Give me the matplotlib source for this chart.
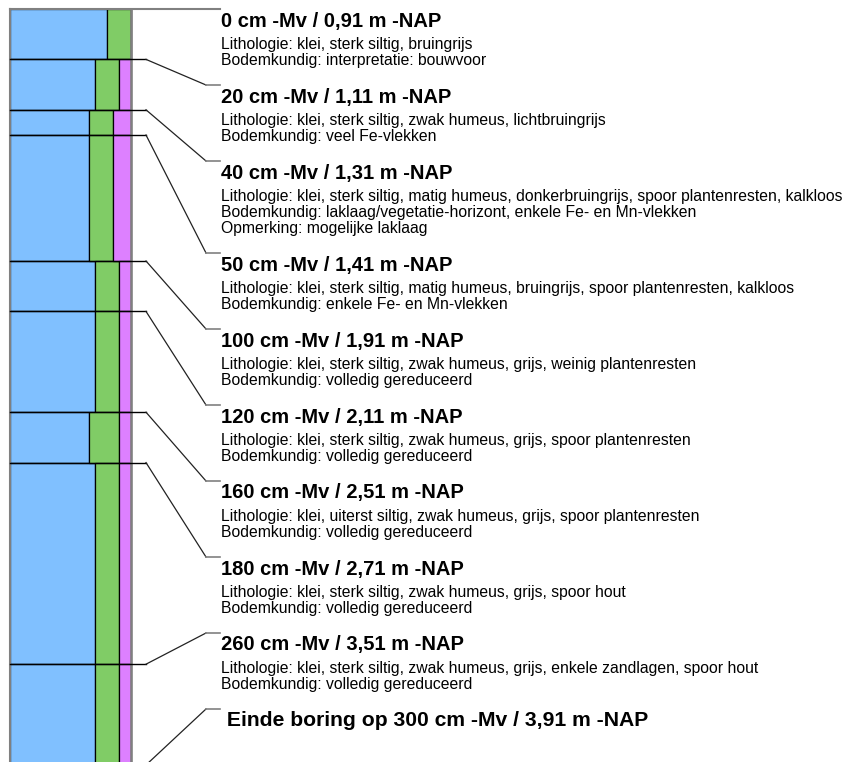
import matplotlib
matplotlib.use("Agg")
import matplotlib.pyplot as plt

plt.rcParams['font.family'] = ['Liberation Sans', 'DejaVu Sans']

# boorbeschrijving: bovenkant laag (cm -Mv)
diepte = [0, 20, 40, 50, 100, 120, 160, 180, 260]
einde = 300
maaiveld_nap = 0.91  # m -NAP

# breedte van de kolomdelen (klei / silt / humus)
klei = [97, 85, 79, 79, 85, 85, 79, 85, 85]
silt = [24, 24, 24, 24, 24, 24, 30, 24, 24]
humus = [0, 12, 18, 18, 12, 12, 12, 12, 12]

omschrijving = [
    ["Lithologie: klei, sterk siltig, bruingrijs",
     "Bodemkundig: interpretatie: bouwvoor"],
    ["Lithologie: klei, sterk siltig, zwak humeus, lichtbruingrijs",
     "Bodemkundig: veel Fe-vlekken"],
    ["Lithologie: klei, sterk siltig, matig humeus, donkerbruingrijs, spoor plantenresten, kalkloos",
     "Bodemkundig: laklaag/vegetatie-horizont, enkele Fe- en Mn-vlekken",
     "Opmerking: mogelijke laklaag"],
    ["Lithologie: klei, sterk siltig, matig humeus, bruingrijs, spoor plantenresten, kalkloos",
     "Bodemkundig: enkele Fe- en Mn-vlekken"],
    ["Lithologie: klei, sterk siltig, zwak humeus, grijs, weinig plantenresten",
     "Bodemkundig: volledig gereduceerd"],
    ["Lithologie: klei, sterk siltig, zwak humeus, grijs, spoor plantenresten",
     "Bodemkundig: volledig gereduceerd"],
    ["Lithologie: klei, uiterst siltig, zwak humeus, grijs, spoor plantenresten",
     "Bodemkundig: volledig gereduceerd"],
    ["Lithologie: klei, sterk siltig, zwak humeus, grijs, spoor hout",
     "Bodemkundig: volledig gereduceerd"],
    ["Lithologie: klei, sterk siltig, zwak humeus, grijs, enkele zandlagen, spoor hout",
     "Bodemkundig: volledig gereduceerd"],
]

def nap(cm):
    return ("%.2f" % (maaiveld_nap + cm / 100)).replace('.', ',')

# layout in pixels
px_cm = 2.52
top_px = 9
W, H = 853, 762
kol = sum([klei[0], silt[0], humus[0]])

fig = plt.figure(figsize=(W / 100, H / 100), dpi=100)
ax = fig.add_axes([0, 0, 1, 1])
ax.set_xlim(-10, W - 10)
ax.set_ylim((H - top_px) / px_cm, -top_px / px_cm)
ax.axis('off')

dikte = [b - a for a, b in zip(diepte, diepte[1:] + [einde])]
ax.barh(diepte, klei, height=dikte, left=0, align='edge',
        color='#80c0ff', edgecolor='black', linewidth=0.9)
ax.barh(diepte, silt, height=dikte, left=klei, align='edge',
        color='#80cc66', edgecolor='black', linewidth=0.9)
links = [k + s for k, s in zip(klei, silt)]
ax.barh(diepte, humus, height=dikte, left=links, align='edge',
        color='#dd80ff', edgecolor='black', linewidth=0.9)

# buitenrand
ax.plot([0, 0], [0, einde], color='#808080', lw=1.5)
ax.plot([kol, kol], [0, einde], color='#808080', lw=1.8)

# labels en verbindingslijnen
tx = 211
y_lab = 0.0
grenzen = diepte + [einde]
for i, d in enumerate(grenzen):
    if i == 0:
        ax.plot([0, tx - 1], [d, d], color='#808080', lw=1.5)
    else:
        ax.plot([0, kol + 15], [d, d], color='black', lw=1.0)
        ax.plot([kol + 15, tx - 15], [d, y_lab], color='#222222', lw=0.9)
        ax.plot([tx - 15, tx - 1], [y_lab, y_lab], color='#808080', lw=1.2)
    if i < len(diepte):
        ax.text(tx, y_lab + 12 / px_cm, "%d cm -Mv / %s m -NAP" % (d, nap(d)),
                fontsize=14.5, fontweight='bold', va='center', ha='left')
        for j, regel in enumerate(omschrijving[i]):
            ax.text(tx, y_lab + (35 + 16 * j) / px_cm, regel,
                    fontsize=11.35, va='center', ha='left')
        y_lab += (44 + 16 * len(omschrijving[i])) / px_cm
    else:
        ax.text(tx, y_lab + 12 / px_cm,
                " Einde boring op %d cm -Mv / %s m -NAP" % (d, nap(d)),
                fontsize=15.2, fontweight='bold', va='center', ha='left')

fig.savefig('out.png', dpi=100)
